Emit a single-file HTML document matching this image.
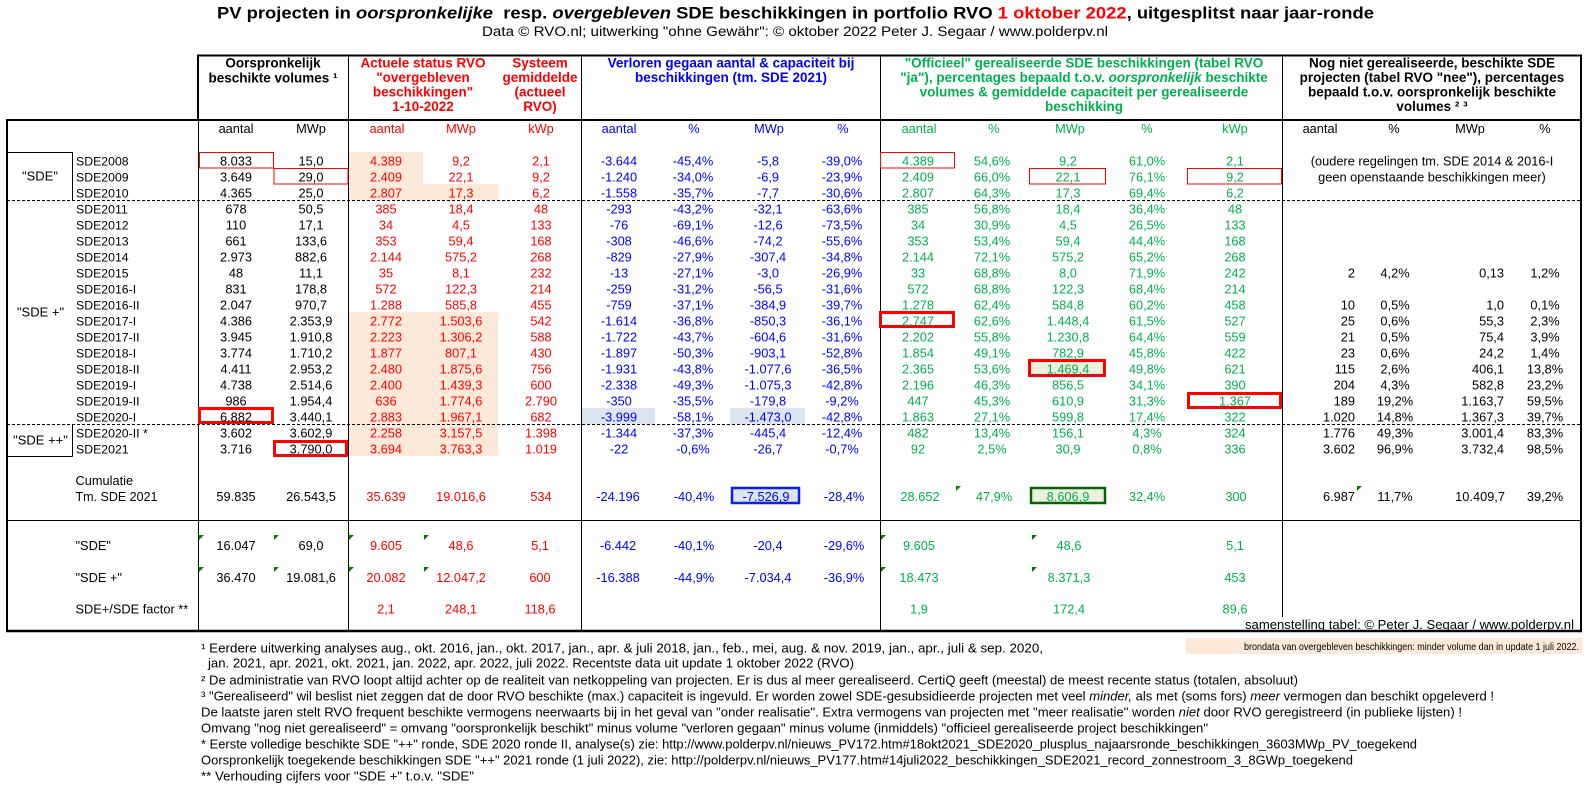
<!DOCTYPE html>
<html><head><meta charset="utf-8">
<style>
html,body{margin:0;padding:0;background:#fff;}
svg{display:block;}
text{font-family:"Liberation Sans",Arial,sans-serif;}
.d text{font-size:12.8px;text-anchor:middle;}
.d .lbl{text-anchor:start;font-size:12.3px;}
.d .e{text-anchor:end;}
.r{fill:#ff0000}.b{fill:#0000ff}.g{fill:#00b050}.k{fill:#000}
</style></head><body>
<svg width="1588" height="788" viewBox="0 0 1588 788" xmlns="http://www.w3.org/2000/svg">
<rect width="1588" height="788" fill="#fff"/>
<!-- shading -->
<rect x="349" y="152" width="74" height="32" fill="#fde9d9"/>
<rect x="349" y="184" width="149" height="16" fill="#fde9d9"/>
<rect x="349" y="312" width="149" height="144" fill="#fde9d9"/>
<rect x="582" y="408" width="73" height="16" fill="#dce6f1"/>
<rect x="730" y="408" width="75" height="16" fill="#dce6f1"/>
<rect x="1029" y="360" width="77" height="16" fill="#ebf1de"/>
<rect x="731" y="487" width="69" height="17" fill="#dce6f1"/>
<rect x="1030" y="487" width="76" height="17" fill="#ebf1de"/>
<rect x="1186" y="638" width="396" height="16" fill="#fde9d9"/>

<!-- grid lines -->
<g stroke="#000" fill="none">
<line x1="197" y1="55.5" x2="1582" y2="55.5" stroke-width="2"/>
<line x1="198" y1="55" x2="198" y2="121" stroke-width="2"/>
<line x1="6" y1="120" x2="1582" y2="120" stroke-width="2"/>
<line x1="7" y1="119" x2="7" y2="632" stroke-width="2"/>
<line x1="1581" y1="55" x2="1581" y2="632" stroke-width="2"/>
<line x1="6" y1="631" x2="1582" y2="631" stroke-width="2.5"/>
<line x1="198.5" y1="120" x2="198.5" y2="631" stroke-width="1"/>
<line x1="348.5" y1="56" x2="348.5" y2="631" stroke-width="1"/>
<line x1="581.5" y1="56" x2="581.5" y2="631" stroke-width="1"/>
<line x1="880.5" y1="56" x2="880.5" y2="631" stroke-width="1"/>
<line x1="1282.5" y1="56" x2="1282.5" y2="617" stroke-width="1"/>
<line x1="7" y1="520.5" x2="1581" y2="520.5" stroke-width="1"/>
<line x1="7" y1="200.5" x2="1581" y2="200.5" stroke-width="1" stroke-dasharray="3,2"/>
<line x1="7" y1="424.5" x2="1581" y2="424.5" stroke-width="1" stroke-dasharray="3,2"/>
<line x1="7" y1="152.5" x2="72.5" y2="152.5" stroke-width="1"/>
<line x1="72.5" y1="152" x2="72.5" y2="200" stroke-width="1"/>
<line x1="72.5" y1="424" x2="72.5" y2="456.5" stroke-width="1"/>
<line x1="7" y1="456.5" x2="72.5" y2="456.5" stroke-width="1"/>
</g>

<!-- red boxes -->
<g fill="none" stroke="#ff0000">
<rect x="199.5" y="152.5" width="74" height="15.5" stroke-width="1"/>
<rect x="274" y="168.5" width="74" height="15.5" stroke-width="1"/>
<rect x="880.5" y="152.5" width="74" height="15.5" stroke-width="1"/>
<rect x="1029.5" y="168.5" width="76" height="15.5" stroke-width="1"/>
<rect x="1187.5" y="168.5" width="94" height="15.5" stroke-width="1"/>
<rect x="199.5" y="408.5" width="73" height="14" stroke-width="3"/>
<rect x="274.5" y="441.5" width="72" height="14" stroke-width="3"/>
<rect x="880.5" y="312.5" width="73" height="14" stroke-width="3"/>
<rect x="1029.5" y="360.5" width="75" height="15" stroke-width="3"/>
<rect x="1188.5" y="393.5" width="92" height="14" stroke-width="3"/>
</g>
<rect x="732" y="488" width="67" height="15" fill="none" stroke="#0a1ff5" stroke-width="2.5"/>
<rect x="1031" y="488" width="74" height="15" fill="none" stroke="#006400" stroke-width="2.5"/>

<!-- green indicator triangles -->
<g fill="#008000">
<polygon points="199,535 204,535 199,540"/>
<polygon points="274,535 279,535 274,540"/>
<polygon points="349,535 354,535 349,540"/>
<polygon points="424,535 429,535 424,540"/>
<polygon points="881,535 886,535 881,540"/>
<polygon points="1032,535 1037,535 1032,540"/>
<polygon points="199,567 204,567 199,572"/>
<polygon points="274,567 279,567 274,572"/>
<polygon points="349,567 354,567 349,572"/>
<polygon points="424,567 429,567 424,572"/>
<polygon points="881,567 886,567 881,572"/>
<polygon points="1032,567 1037,567 1032,572"/>
<polygon points="956,486 961,486 956,491"/>
<polygon points="1357,486 1362,486 1357,491"/>
</g>

<!-- title -->
<text x="217" y="18.5" font-size="17" font-weight="bold" textLength="1157" lengthAdjust="spacingAndGlyphs" xml:space="preserve">PV projecten in <tspan font-style="italic">oorspronkelijke</tspan>  resp. <tspan font-style="italic">overgebleven</tspan> SDE beschikkingen in portfolio RVO <tspan fill="#ff0000">1 oktober 2022</tspan>, uitgesplitst naar jaar-ronde</text>
<text x="482" y="36" font-size="13.5" textLength="626" lengthAdjust="spacingAndGlyphs">Data © RVO.nl; uitwerking "ohne Gewähr": © oktober 2022 Peter J. Segaar / www.polderpv.nl</text>

<!-- headers -->
<g font-weight="bold" font-size="13.5" text-anchor="middle">
<text x="273" y="67.5">Oorspronkelijk</text>
<text x="273" y="82.5">beschikte volumes ¹</text>
<g fill="#ff0000">
<text x="423" y="67.5">Actuele status RVO</text>
<text x="423" y="82">"overgebleven</text>
<text x="423" y="96.5">beschikkingen"</text>
<text x="423" y="111">1-10-2022</text>
<text x="540" y="67.5">Systeem</text>
<text x="540" y="82">gemiddelde</text>
<text x="540" y="96.5">(actueel</text>
<text x="540" y="111">RVO)</text>
</g>
<g fill="#0000ff">
<text x="731" y="67.5">Verloren gegaan aantal &amp; capaciteit bij</text>
<text x="731" y="82">beschikkingen (tm. SDE 2021)</text>
</g>
<g fill="#00b050">
<text x="1084" y="67.5">"Officieel" gerealiseerde SDE beschikkingen (tabel RVO</text>
<text x="1084" y="82">"ja"), percentages bepaald t.o.v. <tspan font-style="italic">oorspronkelijk</tspan> beschikte</text>
<text x="1084" y="96.5">volumes &amp; gemiddelde capaciteit per gerealiseerde</text>
<text x="1084" y="111">beschikking</text>
</g>
<text x="1432" y="67.5">Nog niet gerealiseerde, beschikte SDE</text>
<text x="1432" y="82">projecten (tabel RVO "nee"), percentages</text>
<text x="1432" y="96.5">bepaald t.o.v. oorspronkelijk beschikte</text>
<text x="1432" y="111">volumes ² ³</text>
</g>

<!-- subheaders -->
<g class="d" transform="translate(0,133)">
<text x="236">aantal</text><text x="311">MWp</text>
<text x="387" class="r">aantal</text><text x="461" class="r">MWp</text><text x="541" class="r">kWp</text>
<text x="619" class="b">aantal</text><text x="694" class="b">%</text><text x="769" class="b">MWp</text><text x="843" class="b">%</text>
<text x="919" class="g">aantal</text><text x="994" class="g">%</text><text x="1070" class="g">MWp</text><text x="1147" class="g">%</text><text x="1235" class="g">kWp</text>
<text x="1320">aantal</text><text x="1394">%</text><text x="1470">MWp</text><text x="1545">%</text>
</g>

<!-- group labels -->
<g font-size="13" text-anchor="middle">
<text x="40" y="180.5">"SDE"</text>
<text x="40.5" y="316.5">"SDE +"</text>
<text x="40.5" y="444.5">"SDE ++"</text>
</g>

<!-- note right section -->
<g font-size="12.8" text-anchor="middle">
<text x="1432" y="165.5">(oudere regelingen tm. SDE 2014 &amp; 2016-I</text>
<text x="1432" y="181.5">geen openstaande beschikkingen meer)</text>
</g>

<!-- data rows -->
<g class="d" transform="translate(0,165.5)"><text x="76" class="lbl">SDE2008</text><text x="236">8.033</text><text x="311">15,0</text><text x="386" class="r">4.389</text><text x="461" class="r">9,2</text><text x="541" class="r">2,1</text><text x="619" class="b">-3.644</text><text x="693" class="b">-45,4%</text><text x="768" class="b">-5,8</text><text x="842" class="b">-39,0%</text><text x="918" class="g">4.389</text><text x="992" class="g">54,6%</text><text x="1068" class="g">9,2</text><text x="1147" class="g">61,0%</text><text x="1235" class="g">2,1</text></g>
<g class="d" transform="translate(0,181.5)"><text x="76" class="lbl">SDE2009</text><text x="236">3.649</text><text x="311">29,0</text><text x="386" class="r">2.409</text><text x="461" class="r">22,1</text><text x="541" class="r">9,2</text><text x="619" class="b">-1.240</text><text x="693" class="b">-34,0%</text><text x="768" class="b">-6,9</text><text x="842" class="b">-23,9%</text><text x="918" class="g">2.409</text><text x="992" class="g">66,0%</text><text x="1068" class="g">22,1</text><text x="1147" class="g">76,1%</text><text x="1235" class="g">9,2</text></g>
<g class="d" transform="translate(0,197.5)"><text x="76" class="lbl">SDE2010</text><text x="236">4.365</text><text x="311">25,0</text><text x="386" class="r">2.807</text><text x="461" class="r">17,3</text><text x="541" class="r">6,2</text><text x="619" class="b">-1.558</text><text x="693" class="b">-35,7%</text><text x="768" class="b">-7,7</text><text x="842" class="b">-30,6%</text><text x="918" class="g">2.807</text><text x="992" class="g">64,3%</text><text x="1068" class="g">17,3</text><text x="1147" class="g">69,4%</text><text x="1235" class="g">6,2</text></g>
<g class="d" transform="translate(0,213.5)"><text x="76" class="lbl">SDE2011</text><text x="236">678</text><text x="311">50,5</text><text x="386" class="r">385</text><text x="461" class="r">18,4</text><text x="541" class="r">48</text><text x="619" class="b">-293</text><text x="693" class="b">-43,2%</text><text x="768" class="b">-32,1</text><text x="842" class="b">-63,6%</text><text x="918" class="g">385</text><text x="992" class="g">56,8%</text><text x="1068" class="g">18,4</text><text x="1147" class="g">36,4%</text><text x="1235" class="g">48</text></g>
<g class="d" transform="translate(0,229.5)"><text x="76" class="lbl">SDE2012</text><text x="236">110</text><text x="311">17,1</text><text x="386" class="r">34</text><text x="461" class="r">4,5</text><text x="541" class="r">133</text><text x="619" class="b">-76</text><text x="693" class="b">-69,1%</text><text x="768" class="b">-12,6</text><text x="842" class="b">-73,5%</text><text x="918" class="g">34</text><text x="992" class="g">30,9%</text><text x="1068" class="g">4,5</text><text x="1147" class="g">26,5%</text><text x="1235" class="g">133</text></g>
<g class="d" transform="translate(0,245.5)"><text x="76" class="lbl">SDE2013</text><text x="236">661</text><text x="311">133,6</text><text x="386" class="r">353</text><text x="461" class="r">59,4</text><text x="541" class="r">168</text><text x="619" class="b">-308</text><text x="693" class="b">-46,6%</text><text x="768" class="b">-74,2</text><text x="842" class="b">-55,6%</text><text x="918" class="g">353</text><text x="992" class="g">53,4%</text><text x="1068" class="g">59,4</text><text x="1147" class="g">44,4%</text><text x="1235" class="g">168</text></g>
<g class="d" transform="translate(0,261.5)"><text x="76" class="lbl">SDE2014</text><text x="236">2.973</text><text x="311">882,6</text><text x="386" class="r">2.144</text><text x="461" class="r">575,2</text><text x="541" class="r">268</text><text x="619" class="b">-829</text><text x="693" class="b">-27,9%</text><text x="768" class="b">-307,4</text><text x="842" class="b">-34,8%</text><text x="918" class="g">2.144</text><text x="992" class="g">72,1%</text><text x="1068" class="g">575,2</text><text x="1147" class="g">65,2%</text><text x="1235" class="g">268</text></g>
<g class="d" transform="translate(0,277.5)"><text x="76" class="lbl">SDE2015</text><text x="236">48</text><text x="311">11,1</text><text x="386" class="r">35</text><text x="461" class="r">8,1</text><text x="541" class="r">232</text><text x="619" class="b">-13</text><text x="693" class="b">-27,1%</text><text x="768" class="b">-3,0</text><text x="842" class="b">-26,9%</text><text x="918" class="g">33</text><text x="992" class="g">68,8%</text><text x="1068" class="g">8,0</text><text x="1147" class="g">71,9%</text><text x="1235" class="g">242</text><text x="1355" class="e">2</text><text x="1395">4,2%</text><text x="1504" class="e">0,13</text><text x="1545">1,2%</text></g>
<g class="d" transform="translate(0,293.5)"><text x="76" class="lbl">SDE2016-I</text><text x="236">831</text><text x="311">178,8</text><text x="386" class="r">572</text><text x="461" class="r">122,3</text><text x="541" class="r">214</text><text x="619" class="b">-259</text><text x="693" class="b">-31,2%</text><text x="768" class="b">-56,5</text><text x="842" class="b">-31,6%</text><text x="918" class="g">572</text><text x="992" class="g">68,8%</text><text x="1068" class="g">122,3</text><text x="1147" class="g">68,4%</text><text x="1235" class="g">214</text></g>
<g class="d" transform="translate(0,309.5)"><text x="76" class="lbl">SDE2016-II</text><text x="236">2.047</text><text x="311">970,7</text><text x="386" class="r">1.288</text><text x="461" class="r">585,8</text><text x="541" class="r">455</text><text x="619" class="b">-759</text><text x="693" class="b">-37,1%</text><text x="768" class="b">-384,9</text><text x="842" class="b">-39,7%</text><text x="918" class="g">1.278</text><text x="992" class="g">62,4%</text><text x="1068" class="g">584,8</text><text x="1147" class="g">60,2%</text><text x="1235" class="g">458</text><text x="1355" class="e">10</text><text x="1395">0,5%</text><text x="1504" class="e">1,0</text><text x="1545">0,1%</text></g>
<g class="d" transform="translate(0,325.5)"><text x="76" class="lbl">SDE2017-I</text><text x="236">4.386</text><text x="311">2.353,9</text><text x="386" class="r">2.772</text><text x="461" class="r">1.503,6</text><text x="541" class="r">542</text><text x="619" class="b">-1.614</text><text x="693" class="b">-36,8%</text><text x="768" class="b">-850,3</text><text x="842" class="b">-36,1%</text><text x="918" class="g">2.747</text><text x="992" class="g">62,6%</text><text x="1068" class="g">1.448,4</text><text x="1147" class="g">61,5%</text><text x="1235" class="g">527</text><text x="1355" class="e">25</text><text x="1395">0,6%</text><text x="1504" class="e">55,3</text><text x="1545">2,3%</text></g>
<g class="d" transform="translate(0,341.5)"><text x="76" class="lbl">SDE2017-II</text><text x="236">3.945</text><text x="311">1.910,8</text><text x="386" class="r">2.223</text><text x="461" class="r">1.306,2</text><text x="541" class="r">588</text><text x="619" class="b">-1.722</text><text x="693" class="b">-43,7%</text><text x="768" class="b">-604,6</text><text x="842" class="b">-31,6%</text><text x="918" class="g">2.202</text><text x="992" class="g">55,8%</text><text x="1068" class="g">1.230,8</text><text x="1147" class="g">64,4%</text><text x="1235" class="g">559</text><text x="1355" class="e">21</text><text x="1395">0,5%</text><text x="1504" class="e">75,4</text><text x="1545">3,9%</text></g>
<g class="d" transform="translate(0,357.5)"><text x="76" class="lbl">SDE2018-I</text><text x="236">3.774</text><text x="311">1.710,2</text><text x="386" class="r">1.877</text><text x="461" class="r">807,1</text><text x="541" class="r">430</text><text x="619" class="b">-1.897</text><text x="693" class="b">-50,3%</text><text x="768" class="b">-903,1</text><text x="842" class="b">-52,8%</text><text x="918" class="g">1.854</text><text x="992" class="g">49,1%</text><text x="1068" class="g">782,9</text><text x="1147" class="g">45,8%</text><text x="1235" class="g">422</text><text x="1355" class="e">23</text><text x="1395">0,6%</text><text x="1504" class="e">24,2</text><text x="1545">1,4%</text></g>
<g class="d" transform="translate(0,373.5)"><text x="76" class="lbl">SDE2018-II</text><text x="236">4.411</text><text x="311">2.953,2</text><text x="386" class="r">2.480</text><text x="461" class="r">1.875,6</text><text x="541" class="r">756</text><text x="619" class="b">-1.931</text><text x="693" class="b">-43,8%</text><text x="768" class="b">-1.077,6</text><text x="842" class="b">-36,5%</text><text x="918" class="g">2.365</text><text x="992" class="g">53,6%</text><text x="1068" class="g">1.469,4</text><text x="1147" class="g">49,8%</text><text x="1235" class="g">621</text><text x="1355" class="e">115</text><text x="1395">2,6%</text><text x="1504" class="e">406,1</text><text x="1545">13,8%</text></g>
<g class="d" transform="translate(0,389.5)"><text x="76" class="lbl">SDE2019-I</text><text x="236">4.738</text><text x="311">2.514,6</text><text x="386" class="r">2.400</text><text x="461" class="r">1.439,3</text><text x="541" class="r">600</text><text x="619" class="b">-2.338</text><text x="693" class="b">-49,3%</text><text x="768" class="b">-1.075,3</text><text x="842" class="b">-42,8%</text><text x="918" class="g">2.196</text><text x="992" class="g">46,3%</text><text x="1068" class="g">856,5</text><text x="1147" class="g">34,1%</text><text x="1235" class="g">390</text><text x="1355" class="e">204</text><text x="1395">4,3%</text><text x="1504" class="e">582,8</text><text x="1545">23,2%</text></g>
<g class="d" transform="translate(0,405.5)"><text x="76" class="lbl">SDE2019-II</text><text x="236">986</text><text x="311">1.954,4</text><text x="386" class="r">636</text><text x="461" class="r">1.774,6</text><text x="541" class="r">2.790</text><text x="619" class="b">-350</text><text x="693" class="b">-35,5%</text><text x="768" class="b">-179,8</text><text x="842" class="b">-9,2%</text><text x="918" class="g">447</text><text x="992" class="g">45,3%</text><text x="1068" class="g">610,9</text><text x="1147" class="g">31,3%</text><text x="1235" class="g">1.367</text><text x="1355" class="e">189</text><text x="1395">19,2%</text><text x="1504" class="e">1.163,7</text><text x="1545">59,5%</text></g>
<g class="d" transform="translate(0,421.5)"><text x="76" class="lbl">SDE2020-I</text><text x="236">6.882</text><text x="311">3.440,1</text><text x="386" class="r">2.883</text><text x="461" class="r">1.967,1</text><text x="541" class="r">682</text><text x="619" class="b">-3.999</text><text x="693" class="b">-58,1%</text><text x="768" class="b">-1.473,0</text><text x="842" class="b">-42,8%</text><text x="918" class="g">1.863</text><text x="992" class="g">27,1%</text><text x="1068" class="g">599,8</text><text x="1147" class="g">17,4%</text><text x="1235" class="g">322</text><text x="1355" class="e">1.020</text><text x="1395">14,8%</text><text x="1504" class="e">1.367,3</text><text x="1545">39,7%</text></g>
<g class="d" transform="translate(0,437.5)"><text x="76" class="lbl">SDE2020-II *</text><text x="236">3.602</text><text x="311">3.602,9</text><text x="386" class="r">2.258</text><text x="461" class="r">3.157,5</text><text x="541" class="r">1.398</text><text x="619" class="b">-1.344</text><text x="693" class="b">-37,3%</text><text x="768" class="b">-445,4</text><text x="842" class="b">-12,4%</text><text x="918" class="g">482</text><text x="992" class="g">13,4%</text><text x="1068" class="g">156,1</text><text x="1147" class="g">4,3%</text><text x="1235" class="g">324</text><text x="1355" class="e">1.776</text><text x="1395">49,3%</text><text x="1504" class="e">3.001,4</text><text x="1545">83,3%</text></g>
<g class="d" transform="translate(0,453.5)"><text x="76" class="lbl">SDE2021</text><text x="236">3.716</text><text x="311">3.790,0</text><text x="386" class="r">3.694</text><text x="461" class="r">3.763,3</text><text x="541" class="r">1.019</text><text x="619" class="b">-22</text><text x="693" class="b">-0,6%</text><text x="768" class="b">-26,7</text><text x="842" class="b">-0,7%</text><text x="918" class="g">92</text><text x="992" class="g">2,5%</text><text x="1068" class="g">30,9</text><text x="1147" class="g">0,8%</text><text x="1235" class="g">336</text><text x="1355" class="e">3.602</text><text x="1395">96,9%</text><text x="1504" class="e">3.732,4</text><text x="1545">98,5%</text></g>

<!-- cumulative -->
<text x="75.5" y="485" font-size="12.8">Cumulatie</text>
<g class="d" transform="translate(0,501)"><text x="75.5" class="lbl" style="font-size:12.5px">Tm. SDE 2021</text><text x="236">59.835</text><text x="311">26.543,5</text><text x="386" class="r">35.639</text><text x="461" class="r">19.016,6</text><text x="541" class="r">534</text><text x="618" class="b">-24.196</text><text x="694" class="b">-40,4%</text><text x="766" class="b">-7.526,9</text><text x="844" class="b">-28,4%</text><text x="920" class="g">28.652</text><text x="994" class="g">47,9%</text><text x="1068" class="g">8.606,9</text><text x="1147" class="g">32,4%</text><text x="1236" class="g">300</text><text x="1355" class="e">6.987</text><text x="1395">11,7%</text><text x="1505" class="e">10.409,7</text><text x="1545">39,2%</text></g>

<!-- bottom section -->
<g class="d" transform="translate(0,550)"><text x="75.5" class="lbl" style="font-size:12.8px">"SDE"</text><text x="236">16.047</text><text x="311">69,0</text><text x="386" class="r">9.605</text><text x="461" class="r">48,6</text><text x="540" class="r">5,1</text><text x="618" class="b">-6.442</text><text x="694" class="b">-40,1%</text><text x="768" class="b">-20,4</text><text x="844" class="b">-29,6%</text><text x="919" class="g">9.605</text><text x="1069" class="g">48,6</text><text x="1235" class="g">5,1</text></g>
<g class="d" transform="translate(0,582)"><text x="75.5" class="lbl" style="font-size:12.8px">"SDE +"</text><text x="236">36.470</text><text x="311">19.081,6</text><text x="386" class="r">20.082</text><text x="461" class="r">12.047,2</text><text x="540" class="r">600</text><text x="618" class="b">-16.388</text><text x="694" class="b">-44,9%</text><text x="768" class="b">-7.034,4</text><text x="844" class="b">-36,9%</text><text x="919" class="g">18.473</text><text x="1069" class="g">8.371,3</text><text x="1235" class="g">453</text></g>
<g class="d" transform="translate(0,613.5)"><text x="75.5" class="lbl" style="font-size:12.8px">SDE+/SDE factor **</text><text x="386" class="r">2,1</text><text x="461" class="r">248,1</text><text x="540" class="r">118,6</text><text x="919" class="g">1,9</text><text x="1069" class="g">172,4</text><text x="1235" class="g">89,6</text></g>

<text x="1245" y="629" font-size="13" textLength="329" lengthAdjust="spacingAndGlyphs">samenstelling tabel: © Peter J. Segaar / www.polderpv.nl</text>
<text x="1244" y="650" font-size="10.5" textLength="335" lengthAdjust="spacingAndGlyphs">brondata van overgebleven beschikkingen: minder volume dan in update 1 juli 2022.</text>

<!-- footnotes -->
<g font-size="13">
<text x="201" y="652.5" textLength="842" lengthAdjust="spacingAndGlyphs">¹ Eerdere uitwerking analyses aug., okt. 2016, jan., okt.  2017, jan., apr. &amp; juli 2018, jan., feb., mei, aug. &amp; nov. 2019, jan., apr., juli &amp; sep. 2020,</text>
<text x="208" y="667.5" textLength="646" lengthAdjust="spacingAndGlyphs">jan. 2021, apr. 2021, okt. 2021, jan. 2022, apr. 2022, juli 2022. Recentste data uit update 1 oktober 2022 (RVO)</text>
<text x="201" y="684.5" textLength="1097" lengthAdjust="spacingAndGlyphs">² De administratie van RVO loopt altijd achter op de realiteit van netkoppeling van projecten. Er is dus al meer gerealiseerd. CertiQ geeft (meestal) de meest recente status (totalen, absoluut)</text>
<text x="201" y="700.5" textLength="1293" lengthAdjust="spacingAndGlyphs">³ "Gerealiseerd" wil beslist niet zeggen dat de door RVO beschikte (max.) capaciteit is ingevuld. Er worden zowel SDE-gesubsidieerde projecten met veel <tspan font-style="italic">minder,</tspan> als met (soms fors) <tspan font-style="italic">meer</tspan> vermogen dan beschikt opgeleverd !</text>
<text x="201" y="716.5" textLength="1261" lengthAdjust="spacingAndGlyphs">De laatste jaren stelt RVO frequent beschikte vermogens neerwaarts bij in het geval van "onder realisatie". Extra vermogens van projecten met "meer realisatie" worden <tspan font-style="italic">niet</tspan> door RVO geregistreerd (in publieke lijsten) !</text>
<text x="201" y="732.5" textLength="1007" lengthAdjust="spacingAndGlyphs">Omvang "nog niet gerealiseerd" = omvang "oorspronkelijk beschikt" minus volume "verloren gegaan" minus volume (inmiddels) "officieel gerealiseerde project beschikkingen"</text>
<text x="201" y="748.5" textLength="1216" lengthAdjust="spacingAndGlyphs">* Eerste volledige beschikte SDE "++" ronde, SDE 2020 ronde II, analyse(s) zie: http://www.polderpv.nl/nieuws_PV172.htm#18okt2021_SDE2020_plusplus_najaarsronde_beschikkingen_3603MWp_PV_toegekend</text>
<text x="201" y="764.5" textLength="1152" lengthAdjust="spacingAndGlyphs">Oorspronkelijk toegekende beschikkingen SDE "++" 2021 ronde (1 juli 2022), zie: http://polderpv.nl/nieuws_PV177.htm#14juli2022_beschikkingen_SDE2021_record_zonnestroom_3_8GWp_toegekend</text>
<text x="201" y="780.5" textLength="273" lengthAdjust="spacingAndGlyphs">** Verhouding cijfers voor "SDE +" t.o.v. "SDE"</text>
</g>
</svg>
</body></html>
